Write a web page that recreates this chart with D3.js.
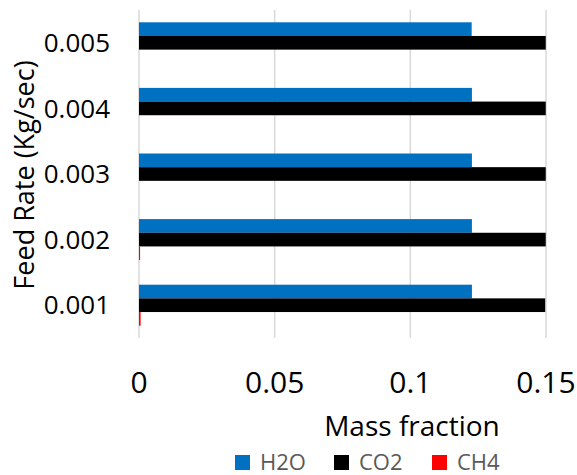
<!DOCTYPE html>
<html lang="en">
<head>
<meta charset="UTF-8">
<title>Mass fraction by feed rate</title>
<script src="https://d3js.org/d3.v7.min.js"></script>
<style>
    body, html { margin: 0; background: #fff; }
    text { font-family: "Open Sans", "Liberation Sans", sans-serif; }
</style>
</head>
<body>
<svg width="577" height="475"></svg>
<script>
    // data
    const feedRates = ["0.001", "0.002", "0.003", "0.004", "0.005"];
    const seriesNames = ["H2O", "CO2", "CH4"];
    const seriesColors = ["#0070C0", "#000000", "#FF0000"];
    const h2o = [0.1227, 0.1227, 0.1227, 0.1227, 0.1226];
    const co2 = [0.1497, 0.1499, 0.1499, 0.1499, 0.1499];
    const ch4 = [0.0006, 0.0004, 0, 0, 0];
    const xTicks = [0, 0.05, 0.1, 0.15];

    const svg = d3.select("svg");
    const plotLeft = 139, plotRight = 546, plotTop = 10, plotBottom = 338;

    const x = d3.scaleLinear().domain([0, 0.15]).range([plotLeft, plotRight]);
    // top category is the last one (Excel bar chart order)
    const y = d3.scaleBand().domain(feedRates.slice().reverse()).range([plotTop, plotBottom]).paddingInner(0.375).paddingOuter(0.1875);
    const ySub = d3.scaleBand().domain(seriesNames).range([0, y.bandwidth()]);

    // gridlines
    svg.append("g").selectAll("line").data(xTicks).enter().append("line")
        .attr("x1", d => x(d)).attr("x2", d => x(d))
        .attr("y1", plotTop).attr("y2", plotBottom)
        .attr("stroke", "#d9d9d9").attr("stroke-width", 1.5);

    const rows = feedRates.map((f, i) => ({ f: f, vals: [h2o[i], co2[i], ch4[i]] }));

    const groups = svg.append("g").selectAll("g").data(rows).enter().append("g")
        .attr("transform", d => `translate(0,${y(d.f)})`);

    groups.selectAll("rect").data(d => d.vals.map((v, j) => ({ v: v, s: seriesNames[j], c: seriesColors[j] })))
        .enter().append("rect")
        .attr("x", x(0))
        .attr("y", d => ySub(d.s))
        .attr("width", d => x(d.v) - x(0))
        .attr("height", ySub.bandwidth())
        .attr("fill", d => d.c);

    // y tick labels
    svg.append("g").selectAll("text").data(feedRates).enter().append("text")
        .attr("x", 110)
        .attr("y", d => y(d) + y.bandwidth() / 2)
        .attr("dy", "0.357em")
        .attr("text-anchor", "end")
        .attr("font-size", 26)
        .attr("fill", "#000")
        .text(d => d);

    // x tick labels
    svg.append("g").selectAll("text").data(xTicks).enter().append("text")
        .attr("x", d => x(d))
        .attr("y", 393)
        .attr("text-anchor", "middle")
        .attr("font-size", 30)
        .attr("fill", "#000")
        .text(d => d);

    // axis titles
    svg.append("text")
        .attr("x", 412).attr("y", 436)
        .attr("text-anchor", "middle")
        .attr("font-size", 28)
        .attr("fill", "#000")
        .text("Mass fraction");

    svg.append("text")
        .attr("transform", "translate(34,175) rotate(-90)")
        .attr("text-anchor", "middle")
        .attr("font-size", 27)
        .attr("fill", "#000")
        .text("Feed Rate (Kg/sec)");

    // legend
    const legendX = [235, 334, 432];
    const legend = svg.append("g").selectAll("g").data(seriesNames).enter().append("g")
        .attr("transform", (d, i) => `translate(${legendX[i]},455)`);
    legend.append("rect").attr("x", 0).attr("y", 0).attr("width", 15).attr("height", 15)
        .attr("fill", (d, i) => seriesColors[i]);
    legend.append("text").attr("x", 25).attr("y", 15)
        .attr("font-size", 22).attr("fill", "#595959")
        .text(d => d);
</script>
</body>
</html>
